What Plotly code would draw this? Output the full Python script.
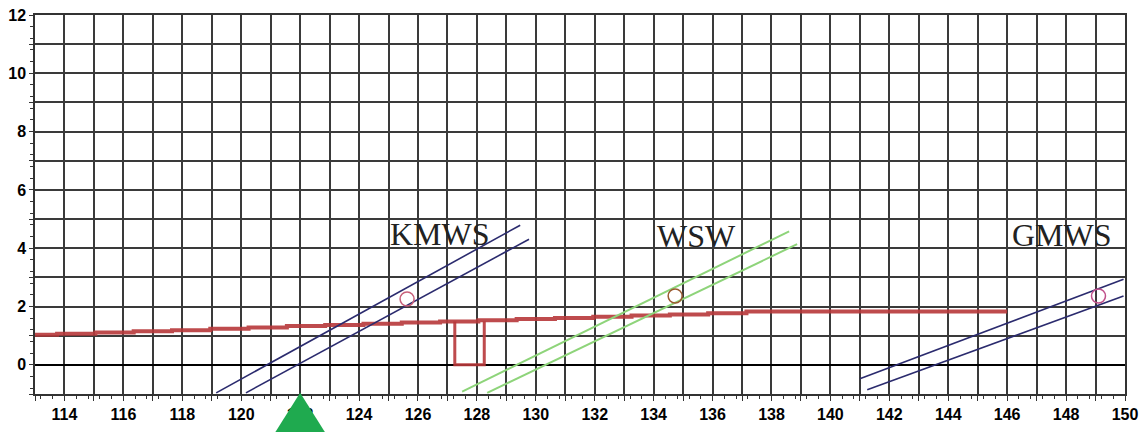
import plotly.graph_objects as go

# ---- data ----
red_x = [113.0, 113.75, 115.05, 116.35, 117.65, 118.95, 120.25, 121.55, 122.85, 124.15,
         125.45, 126.75, 128.05, 129.35, 130.65, 131.95, 133.25, 134.55, 135.85, 137.15, 146.0]
red_y = [1.03, 1.07, 1.11, 1.15, 1.19, 1.24, 1.28, 1.33, 1.37, 1.41,
         1.45, 1.49, 1.53, 1.57, 1.61, 1.65, 1.69, 1.73, 1.77, 1.83, 1.83]

bracket_x = [127.25, 127.25, 128.25, 128.25]
bracket_y = [1.49, 0.0, 0.0, 1.49]

kmws_upper_x = [119.15, 129.47]
kmws_upper_y = [-0.96, 4.79]
kmws_lower_x = [120.16, 129.77]
kmws_lower_y = [-0.96, 4.31]

wsw_upper_x = [127.5, 138.6]
wsw_upper_y = [-0.92, 4.58]
wsw_lower_x = [128.35, 138.87]
wsw_lower_y = [-0.96, 4.14]

gmws_upper_x = [141.0, 149.95]
gmws_upper_y = [-0.48, 2.94]
gmws_lower_x = [141.25, 149.95]
gmws_lower_y = [-0.85, 2.36]

circle_x = [125.63, 134.73, 149.1]
circle_y = [2.26, 2.36, 2.36]
circle_colors = ["#c8607a", "#9a5a30", "#c0508a"]

label_text = ["KMWS", "WSW", "GMWS"]
label_x = [126.75, 135.47, 147.87]
label_y = [4.48, 4.41, 4.44]

x_tickvals = list(range(113, 151))
x_ticktext = [str(v) if v % 2 == 0 else "" for v in x_tickvals]
y_tickvals = list(range(-1, 13))
y_ticktext = [str(v) if (v % 2 == 0 and v >= 0) else "" for v in y_tickvals]

marker_x = 122  # green triangle position

# ---- figure ----
fig = go.Figure()

BLUE = "#2b2b6e"
GREEN = "#8ed47a"
RED = "#b8383a"

fig.add_trace(go.Scatter(x=red_x, y=red_y, mode="lines", line=dict(color=RED, width=4, shape="hv"),
                         opacity=0.9, showlegend=False))
fig.add_trace(go.Scatter(x=bracket_x, y=bracket_y, mode="lines", line=dict(color=RED, width=3),
                         opacity=0.9, showlegend=False))

for xs, ys, c, w in [
    (kmws_upper_x, kmws_upper_y, BLUE, 1.6),
    (kmws_lower_x, kmws_lower_y, BLUE, 1.6),
    (wsw_upper_x, wsw_upper_y, GREEN, 2),
    (wsw_lower_x, wsw_lower_y, GREEN, 2),
    (gmws_upper_x, gmws_upper_y, BLUE, 1.6),
    (gmws_lower_x, gmws_lower_y, BLUE, 1.6),
]:
    fig.add_trace(go.Scatter(x=xs, y=ys, mode="lines", line=dict(color=c, width=w), showlegend=False))

fig.add_trace(go.Scatter(x=circle_x, y=circle_y, mode="markers",
                         marker=dict(symbol="circle-open", size=14,
                                     line=dict(width=1.5), color=circle_colors),
                         showlegend=False))

for t, xx, yy in zip(label_text, label_x, label_y):
    fig.add_annotation(x=xx, y=yy, text=t, showarrow=False,
                       font=dict(family="Liberation Serif", size=32, color="#222222"),
                       xanchor="center", yanchor="middle")

# green triangle marker below the axis (paper coords)
x0, x1 = 113, 150
px = (marker_x - x0) / (x1 - x0)
fig.add_shape(type="path", xref="paper", yref="paper", layer="above",
              path=f"M {px},0.003 L {px + 0.0402},-0.18 L {px - 0.0402},-0.18 Z",
              fillcolor="#1faa4f", line=dict(width=0))

tickfont = dict(family="Liberation Sans", size=16, color="black", weight="bold")
GRID = "#3a3a3a"

fig.update_xaxes(range=[113, 150], tickmode="array", tickvals=x_tickvals, ticktext=x_ticktext,
                 automargin=False, ticklabeloverflow="allow",
                 showgrid=True, gridcolor=GRID, gridwidth=1.5,
                 ticks="outside", ticklen=5, tickcolor="#333", tickwidth=1.2,
                 showline=True, linecolor="#333", linewidth=1.5, mirror=True,
                 zeroline=False, tickfont=tickfont, ticklabelstandoff=0,
                 minor=dict(dtick=0.4, tick0=0, ticks="outside", ticklen=3, tickcolor="#333",
                            tickwidth=1.2, showgrid=False))
fig.update_yaxes(range=[-1, 12], tickmode="array", tickvals=y_tickvals, ticktext=y_ticktext,
                 automargin=False, ticklabeloverflow="allow",
                 showgrid=True, gridcolor=GRID, gridwidth=1.5,
                 ticks="outside", ticklen=4, tickcolor="#333", tickwidth=1.2,
                 showline=True, linecolor="#333", linewidth=1.5, mirror=True,
                 zeroline=True, zerolinecolor="black", zerolinewidth=2.2,
                 tickfont=tickfont, ticklabelstandoff=0,
                 minor=dict(dtick=0.4, tick0=0, ticks="outside", ticklen=3, tickcolor="#333",
                            tickwidth=1.2, showgrid=False))

fig.update_layout(width=1141, height=432, margin=dict(l=35, r=16, t=15, b=38, autoexpand=False),
                  paper_bgcolor="white", plot_bgcolor="white")

# remove the default page margin so the figure fills the window exactly
fig.write_html("out.html", config={"displayModeBar": False},
               post_script="document.body.style.margin='0';document.body.style.overflow='hidden';")
